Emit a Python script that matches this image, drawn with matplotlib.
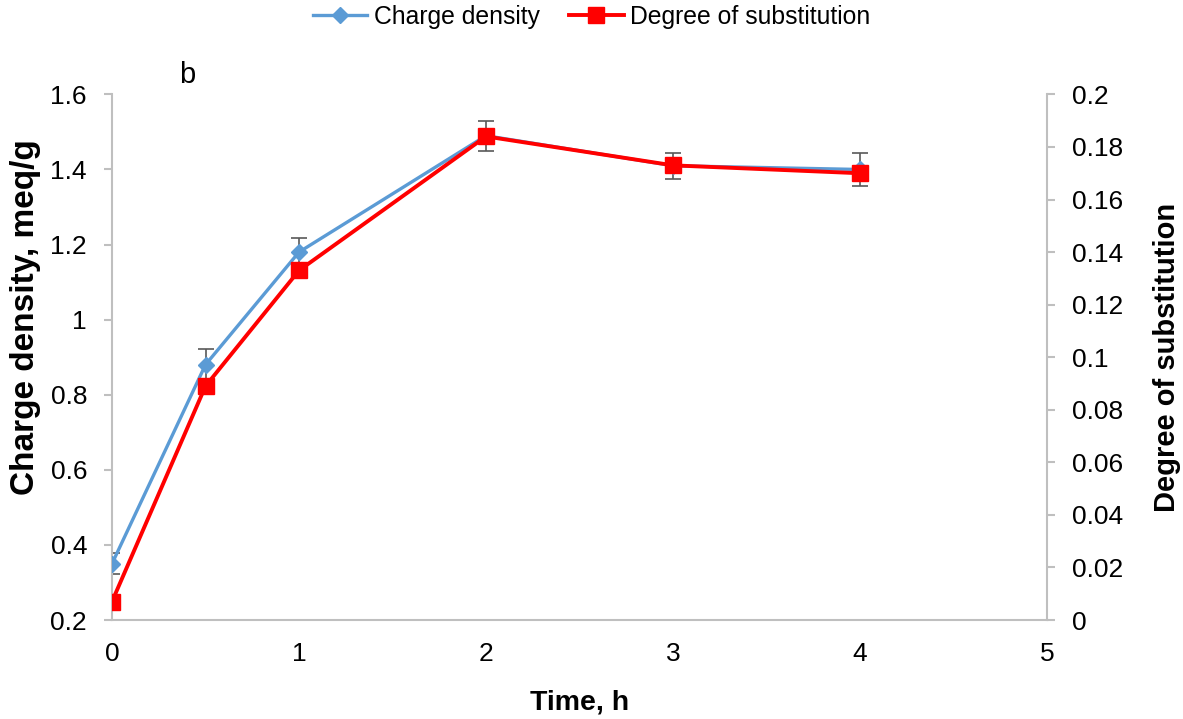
import matplotlib
matplotlib.use("Agg")
import matplotlib.pyplot as plt
from matplotlib.ticker import FuncFormatter

plt.rcParams['font.family'] = ['Liberation Sans', 'DejaVu Sans']

# Reaction time (h)
time_h = [0, 0.5, 1, 2, 3, 4]
# Charge density (meq/g) with standard deviation
charge_density = [0.35, 0.88, 1.18, 1.49, 1.41, 1.40]
charge_err = [0.028, 0.043, 0.038, 0.04, 0.035, 0.045]
# Degree of substitution
degree_sub = [0.007, 0.089, 0.133, 0.184, 0.173, 0.170]

left_ticks = [0.2, 0.4, 0.6, 0.8, 1.0, 1.2, 1.4, 1.6]
right_ticks = [0, 0.02, 0.04, 0.06, 0.08, 0.1, 0.12, 0.14, 0.16, 0.18, 0.2]
x_ticks = [0, 1, 2, 3, 4, 5]

BLUE = '#5B9BD5'
RED = '#FF0000'
AXIS = '#BFBFBF'
ERR = '#595959'

fig = plt.figure(figsize=(11.83, 7.19), dpi=100)
ax = fig.add_axes([112 / 1183, 1 - 620 / 719, 935 / 1183, 525.6 / 719])
ax2 = ax.twinx()

fmt = FuncFormatter(lambda v, p: f"{v:g}")

# Charge density on the left axis
ax.errorbar(time_h, charge_density, yerr=charge_err, fmt='none', ecolor=ERR,
            elinewidth=1.2, capsize=6, capthick=1.2, zorder=2)
l1, = ax.plot(time_h, charge_density, color=BLUE, lw=2.4, marker='D',
              markersize=8.5, markerfacecolor=BLUE, markeredgecolor=BLUE,
              label='Charge density', zorder=3)

# Degree of substitution on the right axis
l2, = ax2.plot(time_h, degree_sub, color=RED, lw=2.8, marker='s',
               markersize=12, markerfacecolor=RED, markeredgecolor=RED,
               label='Degree of substitution', zorder=3)

ax.set_xlim(0, 5)
ax.set_ylim(0.2, 1.6)
ax2.set_ylim(0, 0.2)
ax.set_xticks(x_ticks)
ax.set_yticks(left_ticks)
ax2.set_yticks(right_ticks)
ax.yaxis.set_major_formatter(fmt)
ax2.yaxis.set_major_formatter(fmt)
ax.xaxis.set_major_formatter(fmt)

for a in (ax, ax2):
    a.set_facecolor('none')
    a.spines['top'].set_visible(False)
    for s in ('left', 'right', 'bottom'):
        a.spines[s].set_color(AXIS)
        a.spines[s].set_linewidth(1.5)
ax.spines['right'].set_visible(False)
ax2.spines['left'].set_visible(False)
ax2.spines['bottom'].set_visible(False)

ax.tick_params(axis='y', direction='out', length=6, width=1.5, color=AXIS,
               labelsize=19, pad=12, labelcolor='black')
ax2.tick_params(axis='y', direction='out', length=6, width=1.5, color=AXIS,
                labelsize=19, pad=12, labelcolor='black')
ax.tick_params(axis='x', length=0, labelsize=19, pad=16, labelcolor='black')

ax.set_xlabel('Time, h', fontsize=20.5, fontweight='bold')
ax.xaxis.set_label_coords(0.5005, -0.133)
ax.set_ylabel('Charge density, meq/g', fontsize=24, fontweight='bold')
ax.yaxis.set_label_coords(-0.076, 0.576)
ax2.set_ylabel('Degree of substitution', fontsize=21, fontweight='bold')
ax2.yaxis.set_label_coords(1.113, 0.499)

ax.text(0.08, 1.037, 'b', transform=ax.transAxes, fontsize=21,
        ha='center', va='center')

fig.legend(handles=[l1, l2], loc='center', bbox_to_anchor=(0.5, 1 - 17 / 719),
           ncol=2, frameon=False, fontsize=17.8, handlelength=2.2,
           handletextpad=0.25, columnspacing=1.2)

fig.savefig('out.png', dpi=100)
